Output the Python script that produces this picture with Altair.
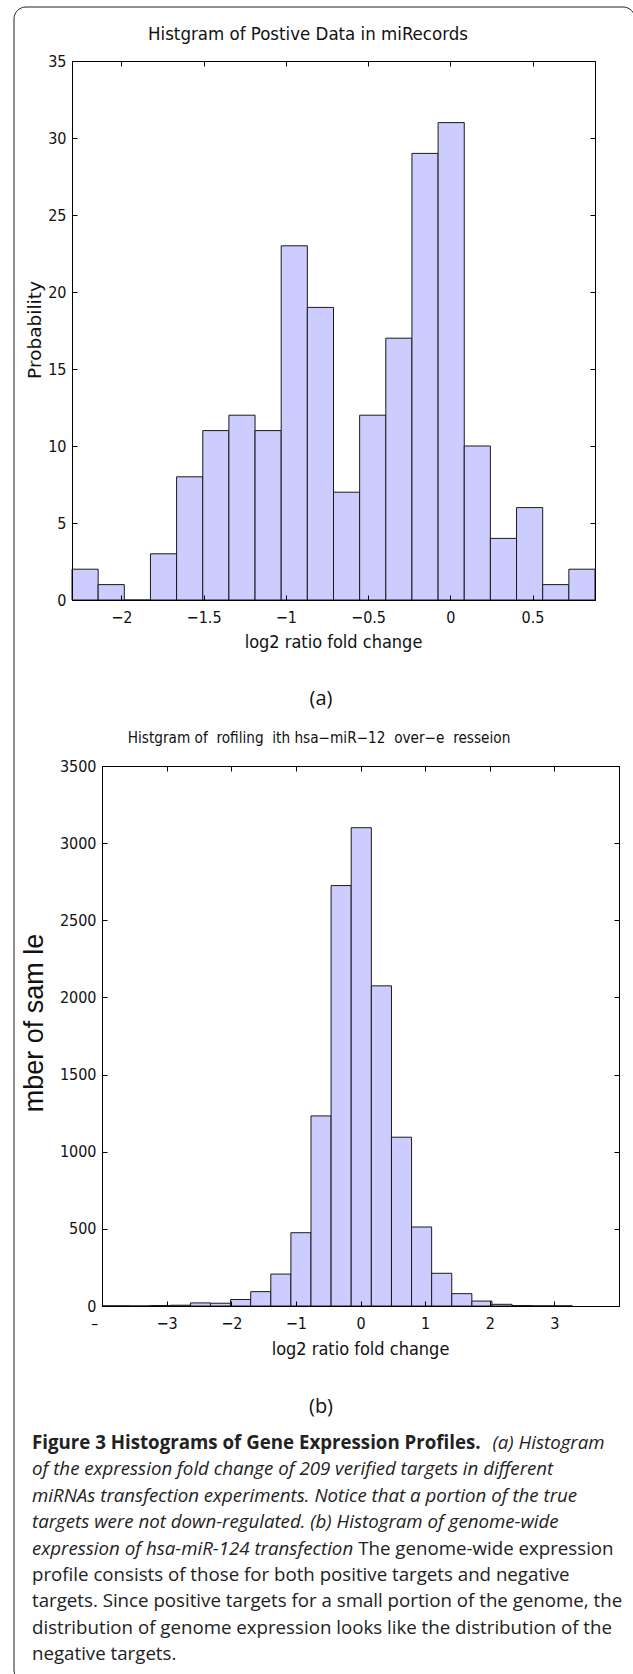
import altair as alt
import pandas as pd

W, H = 633, 1674

# ---------------- data: panel (a) ----------------
a_lo = [-2.300, -2.141, -1.982, -1.823, -1.664, -1.505, -1.346, -1.187, -1.028, -0.869,
        -0.710, -0.551, -0.392, -0.233, -0.074, 0.085, 0.244, 0.403, 0.562, 0.721]
a_hi = [-2.141, -1.982, -1.823, -1.664, -1.505, -1.346, -1.187, -1.028, -0.869, -0.710,
        -0.551, -0.392, -0.233, -0.074, 0.085, 0.244, 0.403, 0.562, 0.721, 0.880]
a_count = [2, 1, 0, 3, 8, 11, 12, 11, 23, 19, 7, 12, 17, 29, 31, 10, 4, 6, 1, 2]
a_xdomain = [-2.30, 0.88]
a_ydomain = [0, 35]
a_xticks = [-2, -1.5, -1, -0.5, 0, 0.5]
a_yticks = [0, 5, 10, 15, 20, 25, 30, 35]

# ---------------- data: panel (b) ----------------
b_lo = [-4.000, -3.876, -3.565, -3.254, -2.943, -2.632, -2.321, -2.010, -1.699, -1.388,
        -1.077, -0.766, -0.455, -0.144, 0.168, 0.479, 0.790, 1.101, 1.412, 1.723,
        2.034, 2.345, 2.656, 2.967]
b_hi = [-3.876, -3.565, -3.254, -2.943, -2.632, -2.321, -2.010, -1.699, -1.388, -1.077,
        -0.766, -0.455, -0.144, 0.168, 0.479, 0.790, 1.101, 1.412, 1.723, 2.034,
        2.345, 2.656, 2.967, 3.278]
b_count = [1, 1, 0, 3, 5, 20, 18, 42, 93, 207, 475, 1232, 2725, 3100, 2075, 1094,
           512, 212, 80, 32, 11, 3, 1, 1]
b_xdomain = [-4, 4]
b_ydomain = [0, 3500]
b_xticks = [-4, -3, -2, -1, 0, 1, 2, 3, 4]
b_yticks = [0, 500, 1000, 1500, 2000, 2500, 3000, 3500]

# ---------------- texts ----------------
title_a = "Histgram of Postive Data in miRecords"
title_b = "Histgram of \u00a0rofiling \u00a0ith hsa\u2212miR\u221212 \u00a0over\u2212e \u00a0resseion"
ytitle_a = "Probability"
ytitle_b = "mber of sam le"
xtitle = "log2 ratio fold change"
cap_lines = [
    [("bold", "Figure 3 Histograms of Gene Expression Profiles."), ("italic", "(a) Histogram")],
    [("italic", "of the expression fold change of 209 verified targets in different")],
    [("italic", "miRNAs transfection experiments. Notice that a portion of the true")],
    [("italic", "targets were not down-regulated. (b) Histogram of genome-wide")],
    [("italic", "expression of hsa-miR-124 transfection"), ("normal", "The genome-wide expression")],
    [("normal", "profile consists of those for both positive targets and negative")],
    [("normal", "targets. Since positive targets for a small portion of the genome, the")],
    [("normal", "distribution of genome expression looks like the distribution of the")],
    [("normal", "negative targets.")],
]
# width (px at 17px Open Sans) of the first segment of lines that mix styles
first_seg_w17 = {0: 414, 4: 292}

NARROW = "Liberation Sans Narrow, DejaVu Sans Condensed, Liberation Sans, sans-serif"
FILL = "#ccccff"
EDGE = "#1a1a1a"

dummy = pd.DataFrame({"k": [0]})


def txt(text, x, y, size, font, align="center", weight="normal", style="normal",
        angle=0, color="#111111"):
    kw = dict(text=text, font=font, fontSize=size, align=align, baseline="middle",
              fontWeight=weight, fontStyle=style, color=color)
    if angle:
        kw["angle"] = angle
    return alt.Chart(dummy).mark_text(**kw).encode(x=alt.value(x), y=alt.value(y))


def axis(**kw):
    base = dict(title=None, grid=False, domainColor="#000000", tickColor="#000000",
                labelColor="#111111", labelFont=NARROW, labelFontSize=16,
                labelFlush=False, labelOverlap=False, zindex=1)
    base.update(kw)
    return alt.Axis(**base)


def panel(lo, hi, cnt, xdom, ydom, X0, X1, Y0, Y1, xticks, yticks, xin, yin,
          xlabelexpr=None, xlabeloffset=None):
    df = pd.DataFrame({"lo": lo, "hi": hi, "count": cnt})
    xs = alt.Scale(domain=xdom, range=[X0, X1], nice=False, zero=False)
    ys = alt.Scale(domain=ydom, range=[Y1, Y0], nice=False, zero=False)
    xkw = dict(orient="bottom", offset=Y1 - H, values=xticks, ticks=False,
               domain=True, labelPadding=9)
    if xlabelexpr:
        xkw["labelExpr"] = xlabelexpr
    else:
        xkw["format"] = "~g"
    if xlabeloffset is not None:
        xkw["labelOffset"] = xlabeloffset
    bars = alt.Chart(df).mark_bar(fill=FILL, stroke=EDGE, strokeWidth=1).encode(
        x=alt.X("lo:Q", scale=xs, axis=axis(**xkw)),
        x2="hi:Q",
        y=alt.Y("count:Q", scale=ys,
                axis=axis(orient="left", offset=-X0, values=yticks, ticks=False,
                          domain=True, labelPadding=6, format="d")),
        y2=alt.datum(0),
    )
    f2 = alt.Chart(df).mark_point(opacity=0).encode(
        x=alt.X("lo:Q", scale=xs,
                axis=axis(orient="top", offset=-Y1, values=xin, labels=False,
                          domain=False, tickSize=5)),
        y=alt.Y("count:Q", scale=ys,
                axis=axis(orient="right", offset=X0 - W, values=yin, labels=False,
                          domain=False, tickSize=5)),
    )
    f3 = alt.Chart(df).mark_point(opacity=0).encode(
        x=alt.X("lo:Q", scale=xs,
                axis=axis(orient="bottom", offset=Y0 - H, values=xin, labels=False,
                          domain=True, tickSize=5)),
        y=alt.Y("count:Q", scale=ys,
                axis=axis(orient="left", offset=-X1, values=yin, labels=False,
                          domain=True, tickSize=5)),
    )
    return [bars, f2, f3]


# geometry (pixels)
XA0, XA1, YA0, YA1 = 72, 595, 61, 600
XB0, XB1, YB0, YB1 = 102, 619, 766, 1306

layers = []
layers += panel(a_lo, a_hi, a_count, a_xdomain, a_ydomain, XA0, XA1, YA0, YA1,
                a_xticks, a_yticks, a_xticks, a_yticks)
layers += panel(b_lo, b_hi, b_count, b_xdomain, b_ydomain, XB0, XB1, YB0, YB1,
                b_xticks, b_yticks, b_xticks[1:-1], b_yticks,
                xlabelexpr="datum.value == -4 ? '\u2013' : (datum.value == 4 ? '' : format(datum.value, '~g'))",
                xlabeloffset={"condition": {"test": "datum.value == -4", "value": -8},
                              "value": 0})

# frame around the whole figure
frame = alt.Chart(dummy).mark_rect(fillOpacity=0, stroke="#222222", strokeWidth=1,
                                   cornerRadius=12).encode(
    x=alt.value(14), x2=alt.value(635), y=alt.value(7), y2=alt.value(1682))
layers.append(frame)

# titles and labels
layers.append(txt(title_a, 308, 34, 18.5, NARROW))
layers.append(txt(xtitle, (XA0 + XA1) / 2, 643, 18, NARROW))
layers.append(txt(ytitle_a, 35, 330, 18.5, "DejaVu Sans", angle=270))
layers.append(txt("(a)", 321, 699, 20, "Open Sans"))
layers.append(txt(title_b, 319, 738, 15.2, NARROW))
layers.append(txt(xtitle, (XB0 + XB1) / 2, 1350, 18, NARROW))
layers.append(txt(ytitle_b, 35, 1023, 27, "Liberation Sans", angle=270))
layers.append(txt("(b)", 321, 1407, 20, "Open Sans"))

# caption
CAP_X0, CAP_Y0, CAP_DY, CAP_FS = 32, 1443, 26.4, 18.7
for i, segs in enumerate(cap_lines):
    y = CAP_Y0 + i * CAP_DY
    x = CAP_X0
    for j, (sty, s) in enumerate(segs):
        weight = "bold" if sty == "bold" else "normal"
        style = "italic" if sty == "italic" else "normal"
        if j > 0:
            x = CAP_X0 + first_seg_w17[i] * CAP_FS / 17 + 0.27 * CAP_FS
        layers.append(txt(s, x, y, CAP_FS, "Open Sans", align="left",
                          weight=weight, style=style, color="#222222"))

chart = alt.layer(*layers, data=dummy).resolve_scale(
    x="independent", y="independent"
).resolve_axis(
    x="independent", y="independent"
).properties(
    width=W, height=H, padding=0,
    autosize=alt.AutoSizeParams(type="none"),
    background="white",
).configure_view(stroke="transparent")

chart.save("out.html", embed_options={"renderer": "svg", "actions": False})
